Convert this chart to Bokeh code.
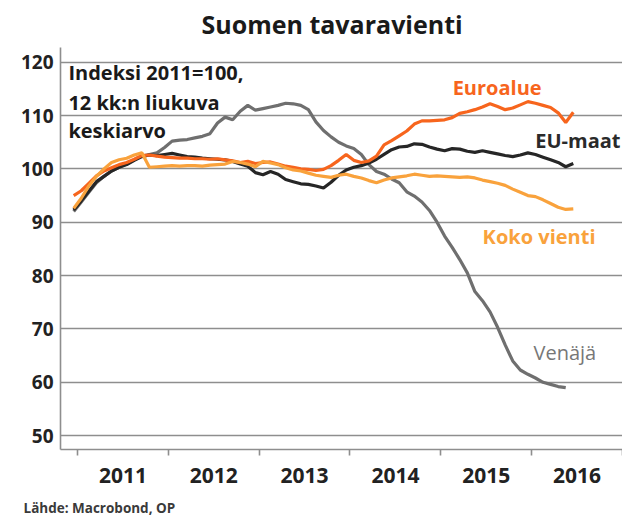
from bokeh.plotting import figure
from bokeh.models import Range1d, FixedTicker, Label, Title
from bokeh.embed import file_html
from bokeh.resources import INLINE
import pandas as pd

# ---- data (12-month moving average, index 2011=100), monthly Dec 2010 .. Jun 2016
months = [str(p) for p in pd.period_range("2010-12", "2016-06", freq="M")]

euroalue = [95.0, 95.9, 97.3, 98.7, 99.6, 100.2, 100.8, 101.2, 101.8, 102.5,
            102.6, 102.4, 102.2, 102.1, 102.0, 102.0, 101.9, 101.9, 101.8, 101.9,
            101.7, 101.5, 101.2, 101.4, 101.0, 101.2, 101.3, 100.9, 100.5, 100.3,
            100.0, 99.9, 99.7, 99.9, 100.6, 101.6, 102.7, 101.6, 101.2, 101.5,
            102.4, 104.5, 105.3, 106.2, 107.1, 108.4, 109.0, 109.0, 109.1, 109.2,
            109.6, 110.4, 110.7, 111.1, 111.6, 112.2, 111.7, 111.1, 111.4, 112.0,
            112.6, 112.3, 111.9, 111.5, 110.5, 108.7, 110.6]

eu_maat = [92.3, 94.0, 95.8, 97.6, 98.6, 99.6, 100.3, 100.8, 101.6, 102.3,
           102.6, 102.5, 102.7, 102.9, 102.6, 102.3, 102.2, 102.0, 101.9, 101.8,
           101.7, 101.4, 100.9, 100.5, 99.3, 98.9, 99.5, 99.0, 98.0, 97.6,
           97.2, 97.1, 96.8, 96.4, 97.5, 98.8, 99.8, 100.3, 100.6, 101.1,
           101.8, 102.7, 103.6, 104.1, 104.2, 104.7, 104.6, 104.1, 103.7, 103.4,
           103.8, 103.7, 103.3, 103.1, 103.4, 103.1, 102.8, 102.5, 102.3, 102.6,
           103.0, 102.7, 102.2, 101.7, 101.2, 100.4, 101.0]

koko_vienti = [92.6, 94.5, 96.8, 98.6, 100.0, 101.2, 101.7, 102.0, 102.6, 103.0,
               100.3, 100.4, 100.5, 100.6, 100.5, 100.6, 100.6, 100.5, 100.7, 100.8,
               100.9, 101.4, 101.2, 100.9, 100.4, 101.4, 101.1, 100.8, 100.2, 99.8,
               99.6, 99.2, 98.8, 98.6, 98.4, 98.8, 99.0, 98.6, 98.3, 97.8,
               97.4, 97.9, 98.3, 98.5, 98.7, 99.0, 98.8, 98.6, 98.7, 98.6,
               98.5, 98.4, 98.5, 98.3, 97.9, 97.6, 97.3, 96.9, 96.2, 95.6,
               95.0, 94.8, 94.2, 93.5, 92.8, 92.4, 92.5]

venaja = [92.0, 93.8, 95.6, 97.4, 98.6, 99.6, 100.3, 100.9, 101.7, 102.4,
          102.7, 103.0, 104.0, 105.2, 105.4, 105.5, 105.8, 106.1, 106.6, 108.6,
          109.7, 109.2, 110.8, 111.9, 111.0, 111.3, 111.6, 111.9, 112.3, 112.2,
          111.9, 111.1, 108.8, 107.2, 106.0, 105.0, 104.3, 103.8, 102.7, 100.8,
          99.5, 99.0, 98.1, 97.4, 95.7, 94.9, 93.8, 92.2, 90.0, 87.4,
          85.3, 83.0, 80.5, 77.0, 75.3, 73.2, 70.3, 67.0, 64.0, 62.3,
          61.5, 60.8, 60.0, 59.6, 59.2, 59.0]

years = [2011, 2012, 2013, 2014, 2015, 2016]
y_ticks = [50, 60, 70, 80, 90, 100, 110, 120]

title_text = "Suomen tavaravienti"
source_text = "Lähde: Macrobond, OP"
note_lines = ["Indeksi 2011=100,", "12 kk:n liukuva", "keskiarvo"]


def month_x(m):
    y, mo = m.split("-")
    return int(y) + (int(mo) - 0.5) / 12.0


xs = [month_x(m) for m in months]

# ---- colours / fonts
C_EURO = "#F7651D"
C_KOKO = "#F9A23C"
C_EU = "#262626"
C_RU = "#6F6F6F"
FONT = "Open Sans"
GRID = "#8E8E8E"

p = figure(width=622, height=517, output_backend="svg", toolbar_location=None,
           x_range=Range1d(2010.813, 2017.0), y_range=Range1d(47.4, 122.75),
           min_border_left=60, min_border_right=0, min_border_top=47, min_border_bottom=68)
p.outline_line_color = None
p.background_fill_color = "white"
p.border_fill_color = "white"

# title
p.title.text = title_text
p.title.align = "left"
p.title.offset = 141
p.title.vertical_align = "top"
p.title.text_font = FONT
p.title.text_font_style = "bold"
p.title.text_font_size = "25px"
p.title.text_color = "#1a1a1a"
p.title.standoff = 10

# grid
p.xgrid.grid_line_color = None
p.ygrid.ticker = FixedTicker(ticks=y_ticks)
p.ygrid.grid_line_color = GRID
p.ygrid.grid_line_width = 1.6

# y axis
p.yaxis.ticker = FixedTicker(ticks=y_ticks)
p.yaxis.major_tick_out = 0
p.yaxis.major_tick_in = 0
p.yaxis.minor_tick_out = 0
p.yaxis.minor_tick_in = 0
p.yaxis.major_label_standoff = 7
p.yaxis.axis_line_color = GRID
p.yaxis.axis_line_width = 1.6
p.yaxis.major_label_text_font = FONT
p.yaxis.major_label_text_font_style = "bold"
p.yaxis.major_label_text_font_size = "19px"
p.yaxis.major_label_text_color = "#222222"

# x axis: labels at mid-year, tick marks at year boundaries
mids = [y + 0.5 for y in years]
bounds = [y for y in years] + [years[-1] + 1]
p.xaxis.ticker = FixedTicker(ticks=mids, minor_ticks=bounds)
p.xaxis.major_label_overrides = {m: str(y) for m, y in zip(mids, years)}
p.xaxis.major_tick_out = 0
p.xaxis.major_tick_in = 0
p.xaxis.minor_tick_out = 6
p.xaxis.minor_tick_in = 0
p.xaxis.minor_tick_line_color = GRID
p.xaxis.minor_tick_line_width = 1.6
p.xaxis.axis_line_color = GRID
p.xaxis.axis_line_width = 1.6
p.xaxis.major_label_standoff = 12
p.xaxis.major_label_text_font = FONT
p.xaxis.major_label_text_font_style = "bold"
p.xaxis.major_label_text_font_size = "21px"
p.xaxis.major_label_text_color = "#222222"

# spacer between axis and source line, then the source
spacer = Title(text=" ", text_font_size="3px", standoff=5)
p.add_layout(spacer, "below")
src = Title(text=source_text, align="left", text_font=FONT, text_font_size="13.5px",
            text_font_style="bold", text_color="#3a3a3a", offset=-37, standoff=2)
p.add_layout(src, "below")

# lines
p.line(xs[:len(venaja)], venaja, line_color=C_RU, line_width=3.2)
p.line(xs, eu_maat, line_color=C_EU, line_width=3.2)
p.line(xs, euroalue, line_color=C_EURO, line_width=3.2)
p.line(xs, koko_vienti, line_color=C_KOKO, line_width=3.2)

# series labels
def lab(x, y, text, color, style="bold"):
    p.add_layout(Label(x=x, y=y, text=text, text_color=color, text_font=FONT,
                       text_font_size="20px", text_font_style=style,
                       text_baseline="middle", text_align="left"))

lab(2015.13, 115.26, "Euroalue", C_EURO)
lab(2016.04, 105.3, "EU-maat", "#2a2a2a")
lab(2015.46, 87.3, "Koko vienti", C_KOKO)
lab(2016.02, 65.6, "Venäjä", "#777777", "normal")

for t, yv in zip(note_lines, [118.07, 112.44, 107.2]):
    p.add_layout(Label(x=2010.90, y=yv, text=t, text_color="#1a1a1a", text_font=FONT,
                       text_font_size="20px", text_font_style="bold",
                       text_baseline="middle", text_align="left"))

open("out.html", "w").write(file_html(p, INLINE))
